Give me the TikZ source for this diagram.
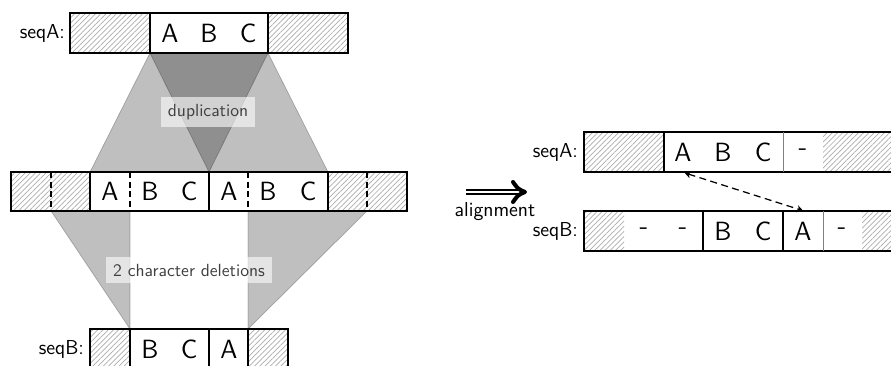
\documentclass[tikz,border=0pt]{standalone}
\usepackage{tikz}
\usetikzlibrary{patterns.meta, arrows.meta}
\renewcommand{\familydefault}{\sfdefault}

\tikzset{
  hatch/.style={pattern={Lines[angle=45, distance=2.1pt, line width=0.4pt]}, pattern color=gray!65},
  seqbox/.style={line width=0.8pt},
  sep/.style={line width=0.8pt},
  weak/.style={draw=gray, line width=0.5pt},
  cut/.style={line width=0.6pt, dash pattern=on 3.5pt off 2pt},
  map/.style={fill=black, fill opacity=0.25, draw=black, draw opacity=0.25, line width=0.4pt},
  note/.style={fill=white, fill opacity=0.6, text opacity=1, text=black!75, inner sep=4pt},
  char/.style={font=\fontsize{15}{18}\selectfont, minimum height=0.8cm, inner sep=0pt},
  lab/.style={anchor=east, inner sep=1pt, font=\fontsize{11.5}{14}\selectfont},
  pairing/.style={{Stealth[length=3.5pt, width=4pt, inset=1pt]}-{Stealth[length=3.5pt, width=4pt, inset=1pt]}, line width=0.7pt, dash pattern=on 4pt off 2.5pt},
  bighead/.style={line width=2.3pt, line cap=round, line join=round},
}

\begin{document}
\begin{tikzpicture}[x=0.02cm, y=-0.02cm]
\useasboundingbox (0,0) rectangle (891,365);

\filldraw[map] (150,53) -- (268,53) -- (209,172) -- (90,172) -- cycle;
\filldraw[map] (150,53) -- (268,53) -- (328,172) -- (209,172) -- cycle;
\filldraw[map] (51,211) -- (130,211) -- (130,329) -- cycle;
\filldraw[map] (248,211) -- (367,211) -- (248,329) -- cycle;
\node[note] (dup) at (208,112) {duplication};
\node[note] (del) at (189,270) {2 character deletions};

\fill[hatch] (70,13) rectangle (150,53) (268,13) rectangle (348,53);
\draw[seqbox] (70,13) rectangle (348,53);
\draw[sep] (150,13) -- (150,53) (268,13) -- (268,53);
\node[lab] (topA) at (67,33) {seqA:};
\foreach \c/\x in {A/170, B/209, C/248}
  \node[char] (t\c) at (\x,33) {\c};

\fill[hatch] (11,172) rectangle (90,211) (328,172) rectangle (407,211);
\draw[seqbox] (11,172) rectangle (407,211);
\draw[sep] (90,172) -- (90,211) (209,172) -- (209,211) (328,172) -- (328,211);
\draw[cut] (51,172) -- (51,211) (130,172) -- (130,211) (248,172) -- (248,211) (367,172) -- (367,211);
\foreach \c/\x [count=\i] in {A/110, B/150, C/189, A/229, B/268, C/308}
  \node[char] (m\i) at (\x,191.5) {\c};

\fill[hatch] (90,329) rectangle (130,369) (248,329) rectangle (288,369);
\draw[seqbox] (90,329) rectangle (288,369);
\draw[sep] (130,329) -- (130,369) (209,329) -- (209,369) (248,329) -- (248,369);
\node[lab] (botB) at (86,349) {seqB:};
\foreach \c/\x [count=\i] in {B/150, C/189, A/229}
  \node[char] (b\i) at (\x,349) {\c};

\coordinate (al0) at (466,192);
\coordinate (al1) at (519,192);
\coordinate (tip) at (525,192);
\draw[double, double distance=1.5pt, line width=1.15pt] (al0) -- (al1);
\draw[bighead] (513,182) .. controls (518,189) .. (tip) .. controls (518,195) .. (513,202);
\node[font=\fontsize{11.5}{14}\selectfont] (align) at (495,212) {alignment};

\fill[hatch] (584,132) rectangle (664,172) (823,132) rectangle (905,172);
\draw[seqbox] (905,132) -- (584,132) -- (584,172) -- (905,172);
\draw[sep] (664,132) -- (664,172);
\draw[weak] (783,132) -- (783,172);
\node[lab] (resA) at (580,152) {seqA:};
\foreach \c/\x [count=\i] in {A/683, B/723, C/763, -/803}
  \node[char] (ra\i) at (\x,152) {\c};

\fill[hatch] (584,211) rectangle (624,251) (862,211) rectangle (905,251);
\draw[seqbox] (905,211) -- (584,211) -- (584,251) -- (905,251);
\draw[sep] (703,211) -- (703,251) (783,211) -- (783,251);
\draw[weak] (823,211) -- (823,251);
\node[lab] (resB) at (580,231) {seqB:};
\foreach \c/\x [count=\i] in {-/644, -/683, B/723, C/763, A/803, -/842}
  \node[char] (rb\i) at (\x,231) {\c};

\draw[pairing, shorten <=1pt] (ra1.south) -- (rb5.north);
\end{tikzpicture}
\end{document}
